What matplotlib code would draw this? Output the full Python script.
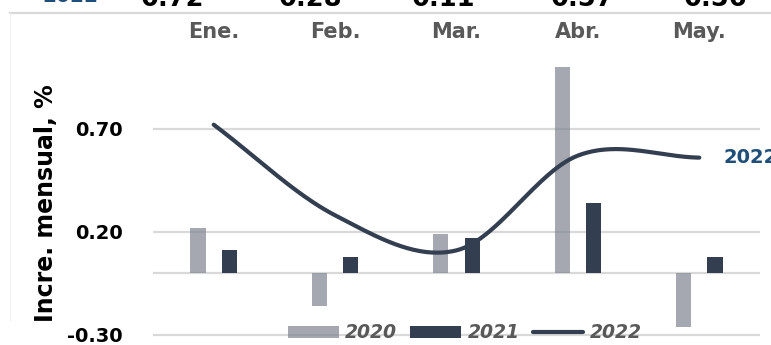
import numpy as np
import matplotlib
matplotlib.use("Agg")
import matplotlib.pyplot as plt
from matplotlib.patches import Patch
from matplotlib.lines import Line2D

# ---- data ----
months = ["Ene.", "Feb.", "Mar.", "Abr.", "May."]
v2020 = [0.22, -0.16, 0.19, 1.00, -0.26]
v2021 = [0.11, 0.08, 0.17, 0.34, 0.08]
v2022 = [0.72, 0.28, 0.11, 0.57, 0.56]
yticks = [-0.30, 0.20, 0.70]
top_values = ["0.72", "0.28", "0.11", "0.57", "0.56"]

W, H = 771, 345
fig = plt.figure(figsize=(W / 100, H / 100), dpi=100)
plt.rcParams['font.family'] = ['DejaVu Sans']

# axes placement (pixels)
ax_l, ax_r, ax_t, ax_b = 153, 760, 13, 340
ax = fig.add_axes([ax_l / W, (H - ax_b) / H, (ax_r - ax_l) / W, (ax_b - ax_t) / H])
ax.set_xlim(-0.5, 4.5)
ax.set_ylim(-67 / 206, 260 / 206)
for s in ax.spines.values():
    s.set_visible(False)

grid_c = "#D9D9D9"
for y in yticks + [0.0]:
    ax.axhline(y, color=grid_c, lw=1.6, zorder=1)

x = np.arange(len(months))
bw = 0.125
ax.bar(x - 0.13, v2020, width=bw, color="#7F8491", alpha=0.7, zorder=2, linewidth=0)
ax.bar(x + 0.13, v2021, width=bw, color="#333F50", zorder=3, linewidth=0)


def catmull(xs, ys, n=60):
    xs = np.asarray(xs, float)
    ys = np.asarray(ys, float)
    m = np.zeros_like(ys)
    m[1:-1] = (ys[2:] - ys[:-2]) / 2
    m[0] = (ys[1] - ys[0])
    m[-1] = (ys[-1] - ys[-2])
    px, py = [], []
    for i in range(len(xs) - 1):
        t = np.linspace(0, 1, n)
        h00 = 2 * t**3 - 3 * t**2 + 1
        h10 = t**3 - 2 * t**2 + t
        h01 = -2 * t**3 + 3 * t**2
        h11 = t**3 - t**2
        py.append(h00 * ys[i] + h10 * m[i] + h01 * ys[i + 1] + h11 * m[i + 1])
        px.append(xs[i] + t * (xs[i + 1] - xs[i]))
    return np.concatenate(px), np.concatenate(py)


sx, sy = catmull(x, v2022)
ax.plot(sx, sy, color="#333F50", lw=3, solid_capstyle="round", zorder=4)
ax.text(x[-1] + 0.2, v2022[-1], "2022", color="#1F4E79", fontsize=14,
        fontweight="bold", va="center", ha="left", clip_on=False)

ax.set_xticks([])
ax.set_yticks(yticks)
ax.set_yticklabels([f"{v:.2f}" for v in yticks], fontsize=14, fontweight="bold")
ax.tick_params(axis="y", length=0, pad=22)

# month labels at top
for i, m in enumerate(months):
    ax.text(i, 1 - (38 - ax_t) / (ax_b - ax_t), m, transform=ax.get_xaxis_transform(),
            ha="center", va="baseline", fontsize=15, fontweight="bold", color="#595959")

# y label
fig.text(46 / W, 1 - 203 / H, "Incre. mensual, %", rotation=90, ha="center",
         va="center", fontsize=17, fontweight="bold")

# table remnants at top
fig.add_artist(Line2D([10 / W, 1], [1 - 13 / H, 1 - 13 / H], color=grid_c, lw=1.6))
fig.add_artist(Line2D([10 / W, 10 / W], [1 - 13 / H, 1 - 320 / H], color="#F0F0F0", lw=0.8))
fig.text(42 / W, 1 - 2 / H, "2022", color="#1F4E79", fontsize=14.5,
         fontweight="bold", ha="left", va="baseline")
for cx, t in zip([173, 311, 444, 583, 716], top_values):
    fig.text(cx / W, 1 - 6 / H, t, fontsize=18.5, fontweight="bold", ha="center",
             va="baseline", color="black")

# legend
handles = [Patch(facecolor="#7F8491", alpha=0.7, edgecolor="none"),
           Patch(facecolor="#333F50", edgecolor="none"),
           Line2D([0], [0], color="#333F50", lw=3, solid_capstyle="round")]
leg = fig.legend(handles, ["2020", "2021", "2022"], loc="center",
                 bbox_to_anchor=(465 / W, 1 - 333 / H), ncol=3, frameon=False,
                 prop={"size": 13.5, "weight": "bold", "style": "italic"},
                 handlelength=2.7, handleheight=0.65, handletextpad=0.35,
                 columnspacing=0.7, borderpad=0, borderaxespad=0)
for t in leg.get_texts():
    t.set_color("#595959")

fig.savefig("out.png", dpi=100)
